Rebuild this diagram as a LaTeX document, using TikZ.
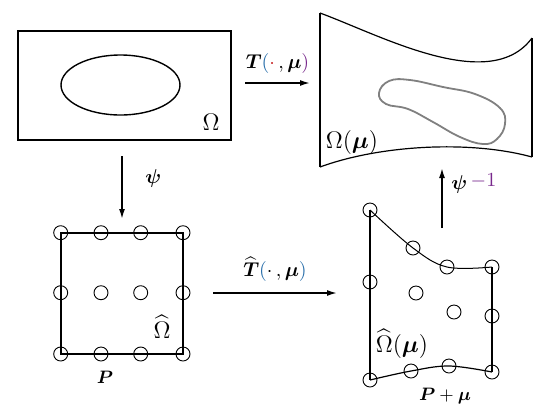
\documentclass[tikz,border=0pt]{standalone}
\usepackage{amsmath,amssymb}
\usepackage{tikz}
\usetikzlibrary{arrows.meta}
\definecolor{parcol}{RGB}{40,110,170}
\definecolor{dotcol}{RGB}{200,40,40}
\definecolor{invcol}{RGB}{120,40,140}
\tikzset{
  gpt/.style={draw,circle,inner sep=0pt,minimum size=7pt,line width=0.45pt},
  dom/.style={line width=1pt},
  bnd/.style={line width=0.5pt},
  map/.style={->,line width=0.8pt},
}
\begin{document}
\begin{tikzpicture}[>={Latex[length=5pt,width=3pt]},x=0.5pt,y=-0.5pt]
  \useasboundingbox (0,0) rectangle (552,409);
  % Physical domain Omega
  \draw[dom] (18,31) rectangle (231,140);
  \draw[bnd,line width=0.7pt] (120.5,85) ellipse [x radius=59.5,y radius=30];
  \node[font=\large] (om) at (211,122) {$\Omega$};
  % Deformed domain Omega(mu)
  \draw[bnd,line width=0.6pt] (320,13) .. controls (380,35) and (490,95) .. (532,38);
  \draw[bnd,line width=0.6pt] (320,167) .. controls (380,145) and (470,140) .. (532,157);
  \draw[dom] (320,13) -- (320,167);
  \draw[dom] (532,38) -- (532,157);
  \draw[gray,line width=0.9pt] plot[smooth cycle,tension=0.7] coordinates
    {(379,93) (389,81) (410,80) (443,87) (475,94) (500,108) (505,124) (497,139)
     (483,144) (460,137) (433,122) (408,109) (386,104)};
  \node[font=\large] (omu) at (352,142) {$\Omega(\boldsymbol{\mu})$};
  % Reference square with control points P
  \foreach \i/\x in {1/60.7,2/101,3/140.7,4/183}{
    \foreach \j/\y in {1/232.7,2/292.7,3/354}{
      \node[gpt] (g-\i-\j) at (\x,\y) {};
    }
  }
  \draw[dom] (g-1-1.center) rectangle (g-4-3.center);
  \node[font=\large] (omh) at (162,327) {$\widehat{\Omega}$};
  \node[font=\small] (P) at (105,377) {$\boldsymbol{P}$};
  % Deformed square with displaced points P+mu
  \foreach \n/\x/\y in {a/370/210,b/413/248,c/447/267,d/492/267,
                        e/370/282,f/416/293,g/454/312,h/492/316,
                        i/370/380,j/411/371,k/449/366,l/492/372}{
    \node[gpt] (q-\n) at (\x,\y) {};
  }
  \draw[bnd] plot[smooth,tension=0.6] coordinates {(q-a.center) (q-b.center) (q-c.center) (q-d.center)};
  \draw[bnd,line width=0.6pt] plot[smooth,tension=0.6] coordinates {(q-i.center) (q-j.center) (q-k.center) (q-l.center)};
  \draw[dom] (q-a.center) -- (q-i.center);
  \draw[dom] (q-d.center) -- (q-l.center);
  \node[font=\large] (omhu) at (402,344) {$\widehat{\Omega}(\boldsymbol{\mu})$};
  \node[font=\small] (Pmu) at (445,396) {$\boldsymbol{P}+\boldsymbol{\mu}$};
  % Maps
  \coordinate (Ts) at (245,83);
  \coordinate (Te) at (310,83);
  \draw[map] (Ts) -- (Te) node[midway,above=1pt]
    {$\boldsymbol{T}\textcolor{parcol}{(}\textcolor{dotcol}{\cdot}\,,\boldsymbol{\mu}\textcolor{invcol}{)}$};
  \coordinate (Hs) at (213,293);
  \coordinate (He) at (337,293);
  \draw[map] (Hs) -- (He) node[midway,above=2pt]
    {$\widehat{\boldsymbol{T}}\textcolor{parcol}{(}\cdot\,,\boldsymbol{\mu}\textcolor{parcol}{)}$};
  \coordinate (Ps) at (122,156);
  \coordinate (Pe) at (122,219);
  \draw[map] (Ps) -- (Pe) node[pos=0.35,right=8pt] {$\boldsymbol{\psi}$};
  \coordinate (Is) at (442,228);
  \coordinate (Ie) at (442,168);
  \draw[map] (Is) -- (Ie) node[pos=0.75,right=1pt]
    {$\boldsymbol{\psi}\,\raisebox{1.5pt}{$\textcolor{invcol}{-1}$}$};
\end{tikzpicture}
\end{document}
